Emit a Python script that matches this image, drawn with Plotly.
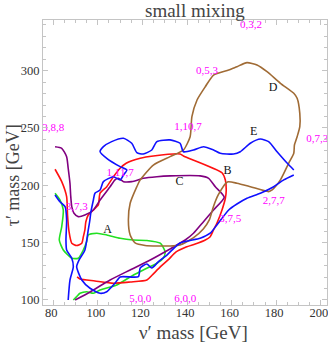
import plotly.graph_objects as go

# ---------------- data (GeV) ----------------
green_x = [80.8, 83.0, 84.5, 83.8, 82.7, 84.5, 88.3, 91.2, 93.5, 95.0, 95.7, 99.5, 104.0, 110.0, 115.8,
           122.0, 128.0, 130.2, 129.4, 126.5, 120.4, 116.0, 108.5, 101.0, 98.0, 95.0, 92.0, 90.5, 89.0]
green_y = [193.1, 187.2, 178.5, 163.9, 152.3, 143.6, 136.4, 136.4, 143.6, 150.9, 156.7, 158.2, 156.7, 153.8, 152.3,
           151.9, 149.5, 141.9, 136.6, 132.0, 126.2, 121.8, 113.1, 108.7, 105.8, 107.2, 105.8, 102.9, 100.0]

red_x = [80.8, 83.8, 86.0, 86.4, 87.1, 88.3, 90.5, 92.8, 93.5, 94.2, 94.6, 95.7, 98.0, 100.2, 101.0, 104.0,
         107.0, 110.0, 112.7, 119.0, 124.9, 136.9, 138.4, 155.7, 157.2, 157.6, 157.2, 155.7, 153.4, 151.9,
         150.4, 148.2, 143.7, 139.6, 135.1, 131.5, 128.0, 124.4, 122.0, 114.5, 107.0, 98.7, 92.0, 90.7]
red_y = [214.0, 203.2, 190.1, 174.1, 159.3, 149.5, 147.5, 149.5, 155.2, 161.1, 168.0, 174.1, 178.5, 182.9, 193.1, 198.8,
         207.5, 214.9, 219.2, 223.6, 225.6, 227.3, 225.6, 211.0, 204.7, 195.9, 188.7, 178.5, 166.9, 161.1,
         155.2, 152.3, 148.8, 146.2, 141.9, 134.9, 128.8, 121.8, 117.4, 115.7, 114.6, 116.6, 118.3, 120.1]

purple_x = [80.8, 83.8, 86.0, 86.7, 87.5, 87.8, 88.3, 89.3, 91.2, 94.2, 98.0, 101.0, 105.5, 107.7, 109.2,
            111.5, 115.2, 120.4, 126.5, 132.4, 145.9, 149.7, 152.7, 156.7, 151.9, 147.4, 142.9, 139.2,
            132.4, 123.5, 114.5, 105.5, 96.5, 89.8]
purple_y = [233.7, 232.3, 225.0, 214.9, 201.8, 191.6, 181.4, 175.6, 172.7, 174.1, 178.5, 187.2, 198.8, 204.7, 206.1,
            203.2, 203.2, 206.1, 207.5, 208.2, 208.2, 206.1, 198.8, 189.6, 178.5, 168.3, 158.2, 152.3,
            144.5, 134.9, 126.2, 117.4, 107.0, 100.0]

brown_x = [158.1, 162.4, 168.4, 176.6, 178.2, 181.9, 185.6, 187.9, 188.2, 189.4, 190.6, 190.6, 189.4, 187.9,
           181.9, 175.9, 171.4, 166.9, 162.4, 158.7, 151.9, 148.2, 144.5, 142.2, 141.4, 138.4, 132.4, 124.9,
           119.0, 117.5, 114.5, 113.7, 114.5, 116.7, 121.2, 132.4, 136.9, 142.8, 147.3, 150.0, 151.8, 154.0, 158.1]
brown_y = [202.9, 201.8, 198.8, 194.5, 196.0, 204.7, 219.2, 228.0, 235.2, 242.4, 251.2, 262.8, 275.9, 280.3,
           289.0, 299.1, 305.0, 307.0, 303.5, 300.6, 296.2, 286.0, 274.4, 259.9, 242.4, 230.8, 225.0, 217.7,
           204.7, 198.8, 184.3, 169.8, 156.7, 149.7, 147.5, 147.1, 148.0, 154.1, 161.9, 169.8, 181.1, 191.6, 202.9]

blue_x = [80.8, 83.0, 85.3, 86.0, 85.7, 86.0, 88.3, 89.0, 87.5, 86.7, None,
          187.9, 185.0, 180.4, 176.6, 172.9, 168.4, 163.9, 160.9, 154.9, 151.9, 147.4, 142.9, 138.4,
          136.9, 132.4, 126.5, 124.2, 120.4, 117.5, 115.2, 111.5, 106.2, 102.5, 101.0, 104.0, 110.0,
          113.0, 111.5, 110.0, 107.0, 102.5, 101.0, 98.7, 98.0, 96.9, 96.3, 95.7, 94.2, 91.6, 90.5,
          92.8, 96.5, 101.0, 104.0, 107.7, 110.0, 118.2, 119.0, 122.0, 124.2, 127.2, 131.0, 136.9,
          145.9, 150.4, 153.4, 158.7, 162.4, 166.9, 172.9, 178.9, 183.4, 187.9]
blue_y = [191.6, 185.7, 181.4, 169.8, 152.3, 143.6, 136.4, 129.0, 117.4, 100.0, None,
          213.4, 219.2, 229.3, 238.1, 240.4, 236.7, 229.3, 227.3, 228.0, 230.8, 233.7, 230.8, 229.3,
          236.7, 239.6, 238.1, 230.8, 227.3, 228.5, 236.7, 241.0, 238.1, 233.7, 229.3, 223.6, 216.3,
          213.4, 209.0, 204.7, 207.5, 203.2, 195.9, 193.1, 187.2, 176.8, 168.0, 161.1, 143.6, 134.9, 129.0,
          117.4, 110.2, 105.8, 107.2, 114.6, 120.1, 120.3, 127.9, 131.4, 127.9, 133.4, 139.2, 149.7,
          153.8, 158.2, 165.4, 178.5, 183.7, 188.7, 193.1, 198.8, 204.7, 209.0]

curve_names = ["A", "B", "C", "D", "E"]
curve_label_x = [104.4, 158.2, 136.6, 178.6, 169.9]
curve_label_y = [161.0, 212.8, 202.9, 285.2, 246.8]

point_labels = ["0,3,2", "0,5,3", "3,8,8", "1,10,7", "1,11,7", "3,7,3", "3,7,5", "2,7,7", "0,7,3", "5,0,0", "6,0,0"]
point_x = [168.7, 149.0, 80.0, 140.5, 110.0, 90.5, 159.4, 178.9, 198.4, 119.0, 139.2]
point_y = [339.9, 299.1, 250.0, 250.5, 210.5, 180.9, 170.4, 185.7, 240.2, 100.6, 100.6]

x_ticks = [80, 100, 120, 140, 160, 180, 200]
y_ticks = [100, 150, 200, 250, 300]

# ---------------- figure ----------------
SERIF = "Liberation Serif, Times New Roman, serif"
fig = go.Figure()

series = [
    (green_x, green_y, "#22e022"),
    (red_x, red_y, "#ff1010"),
    (purple_x, purple_y, "#800080"),
    (brown_x, brown_y, "#a06b35"),
    (blue_x, blue_y, "#1010ff"),
]
for xs, ys, col in series:
    fig.add_trace(go.Scatter(x=xs, y=ys, mode="lines", line=dict(color=col, width=1.6, shape="spline", smoothing=0.6),
                             connectgaps=False, showlegend=False, hoverinfo="skip"))

fig.add_trace(go.Scatter(x=point_x, y=point_y, mode="text", text=point_labels, cliponaxis=False,
                         textfont=dict(family=SERIF, size=11, color="#ff00ff"),
                         showlegend=False, hoverinfo="skip"))
fig.add_trace(go.Scatter(x=curve_label_x, y=curve_label_y, mode="text", text=curve_names, cliponaxis=False,
                         textfont=dict(family=SERIF, size=12, color="#111111"),
                         showlegend=False, hoverinfo="skip"))

axis_common = dict(showgrid=False, zeroline=False, showline=True, linecolor="#c4c4c4", linewidth=1,
                   mirror="ticks", ticks="inside", ticklen=5, tickcolor="#c4c4c4", tickwidth=1,
                   automargin=False, ticklabeloverflow="allow",
                   tickfont=dict(family=SERIF, size=12.5, color="#333333"))

fig.update_xaxes(range=[75.4, 202.8], tickvals=x_ticks, ticktext=[str(v) for v in x_ticks],
                 ticklabelstandoff=-4, ticklabelshift=-2,
                 minor=dict(dtick=5, ticks="inside", ticklen=3, tickcolor="#c4c4c4"), **axis_common)
fig.update_yaxes(range=[95.6, 344.2], tickvals=y_ticks, ticktext=[str(v) for v in y_ticks],
                 minor=dict(dtick=10, ticks="inside", ticklen=3, tickcolor="#c4c4c4"), **axis_common)

fig.update_layout(
    width=328, height=344,
    margin=dict(l=43, r=1, t=20, b=39),
    paper_bgcolor="white", plot_bgcolor="white",
    annotations=[
        dict(text="small mixing", xref="paper", yref="paper", x=0.536, y=1.0, yshift=10,
             xanchor="center", yanchor="middle", showarrow=False,
             font=dict(family=SERIF, size=19, color="#444444")),
        dict(text="\u03bd\u2032 mass [GeV]", xref="paper", yref="paper", x=0.53, y=0.0, yshift=-27,
             xanchor="center", yanchor="middle", showarrow=False,
             font=dict(family=SERIF, size=19, color="#444444")),
        dict(text="\u03c4\u2032 mass [GeV]", xref="paper", yref="paper", x=0.0, xshift=-30, y=0.455,
             xanchor="center", yanchor="middle", textangle=-90, showarrow=False,
             font=dict(family=SERIF, size=18, color="#444444")),
    ],
)

fig.write_html("out.html", config={"displayModeBar": False},
               post_script="document.body.style.margin='0';document.body.style.overflow='hidden';")
